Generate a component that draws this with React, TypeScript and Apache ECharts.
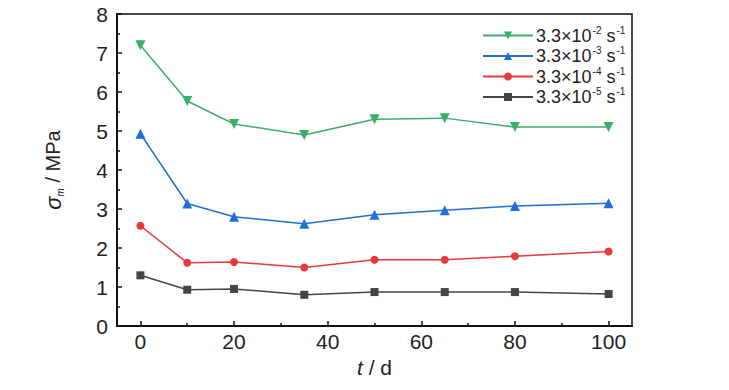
import React, { useEffect, useRef } from "react";
import * as echarts from "echarts";

const days = [0, 10, 20, 35, 50, 65, 80, 100];
const rate2 = [7.2, 5.77, 5.18, 4.9, 5.3, 5.33, 5.1, 5.1];
const rate3 = [4.93, 3.14, 2.8, 2.62, 2.85, 2.97, 3.08, 3.15];
const rate4 = [2.57, 1.62, 1.64, 1.5, 1.7, 1.7, 1.79, 1.91];
const rate5 = [1.3, 0.93, 0.95, 0.8, 0.87, 0.87, 0.87, 0.82];
const seriesExps = ["-2", "-3", "-4", "-5"];
const xMajorTicks = [0, 20, 40, 60, 80, 100];
const xMinorTicks = [10, 30, 50, 70, 90];

const FONT = "'Liberation Sans Narrow', 'Arial Narrow', 'Liberation Sans', Arial, sans-serif";

export default function App() {
  const ref = useRef<HTMLDivElement>(null);
  useEffect(() => {
    if (!ref.current) return;
    const chart = echarts.init(ref.current, null, { renderer: "svg" });
    const pair = (vals: number[]) => days.map((d, i) => [d, vals[i]]);
    const names = seriesExps.map((e) => "3.3×10^" + e);
    const colors = ["#3aaf68", "#1f6fd6", "#e83a3c", "#454545"];
    const symbols = ["triangle", "triangle", "circle", "rect"];
    const rotates = [180, 0, 0, 0];
    const sizes = [10, 10, 8, 8];
    const data = [rate2, rate3, rate4, rate5];
    chart.setOption({
      animation: false,
      textStyle: { fontFamily: FONT },
      grid: {
        left: 117,
        top: 14,
        right: 97,
        bottom: 64,
        show: true,
        borderColor: "#111",
        borderWidth: 1.5,
      },
      legend: {
        orient: "vertical",
        left: 477,
        top: 20,
        itemWidth: 50,
        itemHeight: 10,
        itemGap: 1,
        data: names,
        formatter: (name: string) => {
          const idx = names.indexOf(name);
          return "{a|3.3×10}{s|" + seriesExps[idx] + "}{a| s}{s|-1}";
        },
        textStyle: {
          padding: [0, 0, 0, -2],
          rich: {
            a: { fontSize: 18, lineHeight: 21, color: "#222", fontFamily: FONT },
            s: { fontSize: 10, lineHeight: 21, color: "#222", fontFamily: FONT, verticalAlign: "top", padding: [0, 0, 0, 1] },
          },
        },
      },
      xAxis: [
        {
          type: "value",
          min: -5,
          max: 105,
          position: "bottom",
          axisLine: { show: true, onZero: false, lineStyle: { color: "#111", width: 2 } },
          axisTick: { inside: true, length: 5, customValues: xMajorTicks, lineStyle: { color: "#111", width: 1.5 } },
          axisLabel: { customValues: xMajorTicks, fontSize: 21, color: "#222", margin: 5, fontFamily: FONT },
          splitLine: { show: false },
          name: "{i|t}{n| / d}",
          nameLocation: "middle",
          nameGap: 31,
          nameTextStyle: {
            rich: {
              i: { fontSize: 21, fontStyle: "italic", color: "#222", fontFamily: FONT },
              n: { fontSize: 21, color: "#222", fontFamily: FONT },
            },
          },
        },
        {
          type: "value",
          min: -5,
          max: 105,
          position: "bottom",
          axisLine: { show: false, onZero: false },
          axisTick: { inside: true, length: 3, customValues: xMinorTicks, lineStyle: { color: "#111", width: 1.5 } },
          axisLabel: { show: false },
          splitLine: { show: false },
        },
      ],
      yAxis: {
        type: "value",
        min: 0,
        max: 8,
        interval: 1,
        axisLine: { show: true, onZero: false, lineStyle: { color: "#111", width: 2 } },
        axisTick: { inside: true, length: 5, lineStyle: { color: "#111", width: 1.5 } },
        minorTick: { show: true, splitNumber: 2, length: 3, lineStyle: { color: "#111", width: 1.5 } },
        axisLabel: { fontSize: 21, color: "#222", margin: 9, fontFamily: FONT },
        splitLine: { show: false },
        name: "{i|σ}{sub|m}{n| / MPa}",
        nameLocation: "middle",
        nameRotate: 90,
        nameGap: 52,
        nameTextStyle: {
          rich: {
            i: { fontSize: 22, fontStyle: "italic", color: "#222", fontFamily: FONT, lineHeight: 24 },
            sub: { fontSize: 10, fontStyle: "italic", color: "#222", fontFamily: FONT, lineHeight: 24, verticalAlign: "bottom" },
            n: { fontSize: 20, color: "#222", fontFamily: FONT, lineHeight: 24 },
          },
        },
      },
      series: names.map((n, i) => ({
        name: n,
        type: "line",
        data: pair(data[i]),
        symbol: symbols[i],
        symbolSize: sizes[i],
        symbolRotate: rotates[i],
        color: colors[i],
        lineStyle: { width: 1.5, color: colors[i] },
        itemStyle: { color: colors[i] },
        z: 10 - i,
      })),
    });
    return () => chart.dispose();
  }, []);
  return (
    <div
      ref={ref}
      style={{ position: "fixed", left: 0, top: 0, width: 729, height: 390, background: "#fff" }}
    />
  );
}
